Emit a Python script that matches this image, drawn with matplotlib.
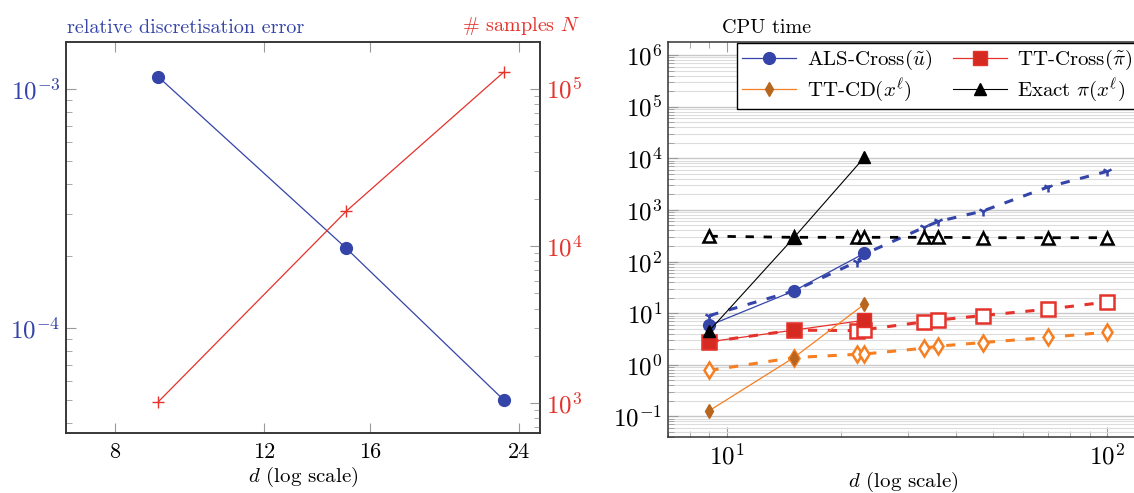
import matplotlib
matplotlib.use('Agg')
import matplotlib.pyplot as plt
import matplotlib.ticker as mticker
import numpy as np

plt.rcParams['font.family'] = 'cmr10'
plt.rcParams['mathtext.fontset'] = 'cm'
plt.rcParams['axes.formatter.use_mathtext'] = True

# left panel: error and samples
d_left = [9, 15, 23]
rel_error = [1.12e-3, 2.15e-4, 5.0e-5]
n_samples = [1.02e3, 1.67e4, 1.28e5]

# right panel: CPU time, solid lines (d = 9, 15, 23)
d_solid = [9, 15, 23]
als_solid = [5.8, 27, 145]
ttcross_solid = [2.8, 4.7, 7.3]
ttcd_solid = [0.13, 1.38, 15]
exact_solid = [4.6, 290, 10500]

# right panel: CPU time, dashed lines
d_dash = [9, 15, 22, 23, 33, 36, 47, 70, 100]
als_dash = [9, 27, 100, 140, 460, 600, 950, 2800, 5600]
ttcross_dash = [2.8, 4.7, 4.6, 4.8, 6.8, 7.4, 9.0, 12, 16.5]
ttcd_dash = [0.78, 1.38, 1.6, 1.62, 2.1, 2.3, 2.7, 3.4, 4.3]
exact_dash = [310, 295, 295, 295, 295, 295, 290, 290, 290]

blue = '#3444a8'
red = '#e5322b'
dred = '#d42a22'
orange = '#f57f22'
brown = '#b8661f'
tickgray = '#9a9a9a'

fig = plt.figure(figsize=(11.34, 4.93), dpi=100)

# ---- left panel ----
ax1 = fig.add_axes([0.0582, 0.1217, 0.4180, 0.7933])
ax1.plot(d_left, rel_error, '-', color=blue, lw=0.9, marker='o', ms=8.5, mfc=blue, mec=blue)
ax1.set_xscale('log')
ax1.set_yscale('log')
ax1.set_xlim(7, 25.4)
ax1.set_ylim(3.63e-5, 1.57e-3)
ax1.set_xticks([8, 12, 16, 24])
ax1.set_xticklabels(['8', '12', '16', '24'])
ax1.xaxis.set_minor_locator(mticker.NullLocator())
ax1.tick_params(axis='x', which='major', direction='in', length=7, color=tickgray,
                top=True, labelsize=16, pad=7)
ax1.tick_params(axis='y', which='both', direction='in', color=tickgray,
                labelcolor=blue, labelsize=18, pad=4)
ax1.tick_params(axis='y', which='major', length=7)
ax1.tick_params(axis='y', which='minor', length=4)
ax1.set_xlabel(r'$d$ (log scale)', fontsize=15, labelpad=2)

ax2 = ax1.twinx()
ax2.plot(d_left, n_samples, '-', color=red, lw=0.9, marker='+', ms=9, mew=1.0)
ax2.set_yscale('log')
ax2.set_ylim(644, 2.0e5)
ax2.tick_params(axis='y', which='both', direction='in', color=tickgray,
                labelcolor=red, labelsize=18, pad=4)
ax2.tick_params(axis='y', which='major', length=7)
ax2.tick_params(axis='y', which='minor', length=4)
for ax in (ax1, ax2):
    for s in ax.spines.values():
        s.set_color('#333333')
        s.set_linewidth(1.1)

fig.text(0.059, 0.925, 'relative discretisation error', color=blue, fontsize=14.5, va='bottom')
fig.text(0.5115, 0.925, r'# samples $N$', color=red, fontsize=14.5, va='bottom', ha='right')

# ---- right panel ----
ax3 = fig.add_axes([0.589, 0.1136, 0.414, 0.8014])
ax3.set_xscale('log')
ax3.set_yscale('log')
ax3.set_xlim(7, 120)
ax3.set_ylim(0.04, 1.8e6)
ax3.set_yticks([10.0**k for k in range(-1, 7)])
ax3.yaxis.set_minor_locator(mticker.LogLocator(base=10, subs=np.arange(2, 10), numticks=20))
ax3.yaxis.set_minor_formatter(mticker.NullFormatter())
ax3.grid(True, axis='y', which='major', color='#c8c8c8', lw=1.0)
ax3.grid(True, axis='y', which='minor', color='#dcdcdc', lw=0.8)
ax3.set_axisbelow(True)

ax3.plot(d_dash, als_dash, '--', color=blue, lw=2.2, dashes=(3, 3.5), marker='1', ms=7, mew=1.8)
ax3.plot(d_dash, ttcross_dash, '--', color=red, lw=2.2, dashes=(3, 3.5), marker='s', ms=9.5,
         mfc='white', mec=red, mew=1.8)
ax3.plot(d_dash, ttcd_dash, '--', color=orange, lw=2.2, dashes=(3, 3.5), marker='d', ms=8,
         mfc='white', mec=orange, mew=1.8)
ax3.plot(d_dash, exact_dash, '--', color='black', lw=2.0, dashes=(3, 3.5), marker='^', ms=8.5,
         mfc='white', mec='black', mew=1.8)

h1, = ax3.plot(d_solid, als_solid, '-', color=blue, lw=0.9, marker='o', ms=8.5, mfc=blue, mec=blue,
               label=r'ALS-Cross$(\tilde{u})$')
h2, = ax3.plot(d_solid, ttcross_solid, '-', color=red, lw=0.9, marker='s', ms=9.5, mfc=dred, mec=red,
               label=r'TT-Cross$(\tilde{\pi})$')
h3, = ax3.plot(d_solid, ttcd_solid, '-', color=orange, lw=0.9, marker='d', ms=7.5, mfc=brown, mec=brown,
               label=r'TT-CD$(x^{\ell})$')
h4, = ax3.plot(d_solid, exact_solid, '-', color='black', lw=0.8, marker='^', ms=8, mfc='black', mec='black',
               label=r'Exact $\pi(x^{\ell})$')

ax3.tick_params(axis='x', which='major', direction='in', length=7, color=tickgray,
                top=True, labelsize=18, pad=5)
ax3.tick_params(axis='x', which='minor', direction='in', length=4, color=tickgray, top=True)
ax3.tick_params(axis='y', which='major', direction='in', length=7, color=tickgray, labelsize=18, pad=4)
ax3.tick_params(axis='y', which='minor', direction='in', length=4, color=tickgray)
ax3.set_xlabel(r'$d$ (log scale)', fontsize=15, labelpad=0)
for s in ax3.spines.values():
    s.set_color('#333333')
    s.set_linewidth(1.1)

leg = ax3.legend(handles=[h1, h3, h2, h4], ncol=2, loc='upper right',
                 bbox_to_anchor=(1.003, 0.913), bbox_transform=fig.transFigure,
                 borderaxespad=0, fontsize=15, frameon=True, fancybox=False, framealpha=1,
                 edgecolor='black', handlelength=2.6, columnspacing=1.0,
                 borderpad=0.25, labelspacing=0.2, handletextpad=0.5)
leg.get_frame().set_linewidth(1.0)

fig.text(0.637, 0.925, 'CPU time', color='black', fontsize=14.5, va='bottom')

fig.savefig('out.png', dpi=100)
